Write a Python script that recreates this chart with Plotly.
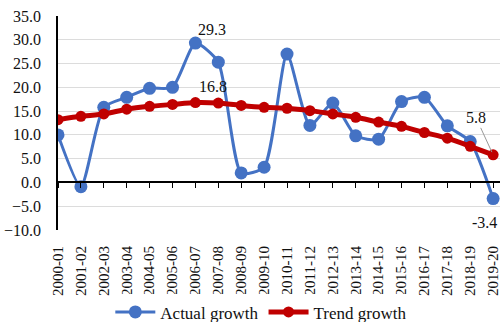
import plotly.graph_objects as go

years = ["2000-01", "2001-02", "2002-03", "2003-04", "2004-05", "2005-06", "2006-07",
         "2007-08", "2008-09", "2009-10", "2010-11", "2011-12", "2012-13", "2013-14",
         "2014-15", "2015-16", "2016-17", "2017-18", "2018-19", "2019-20"]
actual = [10.0, -0.9, 15.8, 17.9, 19.8, 20.0, 29.3, 25.3, 2.0, 3.2,
          27.0, 12.0, 16.7, 9.8, 9.1, 17.0, 17.9, 11.9, 8.6, -3.4]
trend = [13.2, 13.9, 14.4, 15.4, 16.0, 16.4, 16.8, 16.7, 16.2, 15.8,
         15.6, 15.1, 14.4, 13.7, 12.7, 11.8, 10.5, 9.3, 7.6, 5.8]
y_ticks = [-10, -5, 0, 5, 10, 15, 20, 25, 30, 35]

BLUE = "#4472C4"
RED = "#C00000"
FONT = "Times New Roman, Liberation Serif, serif"
TXT = "#111111"

idx = list(range(len(years)))
x_range = [0, 19.3]

fig = go.Figure()
fig.add_trace(go.Scatter(
    x=idx, y=actual, name="Actual growth", mode="lines+markers",
    line=dict(color=BLUE, width=3, shape="spline", smoothing=0.6),
    marker=dict(color=BLUE, size=13),
))
fig.add_trace(go.Scatter(
    x=idx, y=trend, name="Trend growth", mode="lines+markers",
    line=dict(color=RED, width=5, shape="spline", smoothing=0.6),
    marker=dict(color=RED, size=11),
))
# invisible trace to carry the tick-mark axis across the zero line
fig.add_trace(go.Scatter(x=idx, y=[0] * len(idx), xaxis="x2", mode="lines",
                         line=dict(width=0), showlegend=False, hoverinfo="skip"))

y0, y1 = -10, 35
zero_pos = (0 - y0) / (y1 - y0)

fig.update_layout(
    width=500, height=322,
    margin=dict(l=58, r=0, t=16, b=92, autoexpand=False),
    paper_bgcolor="white", plot_bgcolor="white",
    font=dict(family=FONT, size=14, color=TXT),
    showlegend=True,
    legend=dict(orientation="h", x=0.46, xanchor="center", y=-0.385, yanchor="middle",
                font=dict(family=FONT, size=17, color=TXT), itemwidth=40,
                traceorder="normal"),
    xaxis=dict(
        range=x_range, tickmode="array", tickvals=idx, ticktext=years,
        tickangle=-90, showgrid=False, zeroline=False, showline=False,
        ticks="", ticklabelstandoff=12, automargin=False, ticklabeloverflow="allow",
        tickfont=dict(family=FONT, size=15, color=TXT),
    ),
    xaxis2=dict(
        overlaying="x", anchor="free", position=zero_pos, side="bottom",
        range=x_range, tickmode="array", tickvals=idx, showticklabels=False,
        showline=True, linecolor="black", linewidth=1.5, automargin=False,
        ticks="outside", ticklen=5, tickcolor="black", tickwidth=1.2,
        showgrid=False, zeroline=False,
    ),
    yaxis=dict(
        range=[y0, y1], tickmode="array", tickvals=y_ticks, tickformat=".1f",
        showgrid=True, gridcolor="#dcdcdc", gridwidth=1, zeroline=False,
        showline=True, linecolor="black", linewidth=1.5, ticks="", automargin=False,
        ticklabelstandoff=12, tickfont=dict(family=FONT, size=16, color=TXT),
    ),
)

# value labels
peak = actual.index(max(actual))
tpeak = trend.index(max(trend))
last = len(years) - 1
lab = dict(family=FONT, size=16, color=TXT)
fig.add_annotation(x=peak, y=actual[peak], text=f"{actual[peak]:.1f}", showarrow=False,
                   xshift=17, yshift=14, font=lab)
fig.add_annotation(x=tpeak, y=trend[tpeak], text=f"{trend[tpeak]:.1f}", showarrow=False,
                   xshift=18, yshift=16, font=lab)
fig.add_annotation(x=last, y=trend[last], text=f"{trend[last]:.1f}", showarrow=True,
                   arrowhead=0, arrowwidth=1, arrowcolor="#999", ax=-17, ay=-37,
                   standoff=3, font=lab)
fig.add_annotation(x=last, y=actual[last], text=f"{actual[last]:.1f}", showarrow=False,
                   xshift=-9, yshift=-24, font=lab)

fig.write_html("out.html")
